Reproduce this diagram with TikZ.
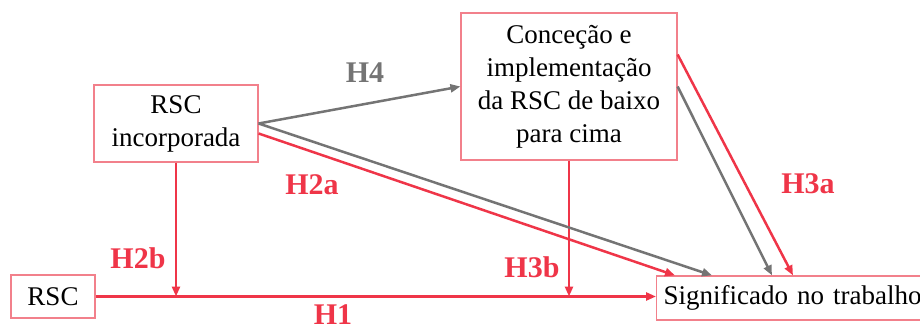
\documentclass[tikz,border=0pt]{standalone}
\usepackage{fontspec}
\setmainfont{Liberation Serif}
\usetikzlibrary{arrows.meta,calc}

\definecolor{hypred}{HTML}{EF3548}
\definecolor{boxred}{HTML}{F2808B}
\definecolor{hypgray}{HTML}{747474}

\begin{document}
\begin{tikzpicture}[x=1pt,y=1pt,
    box/.style={draw=boxred, line width=1.2pt, inner sep=0pt, align=center,
        font=\fontsize{27}{33}\selectfont},
    redarrow/.style={draw=hypred, line width=2.5pt, -{Triangle[length=10pt,width=8pt]}},
    grayarrow/.style={draw=hypgray, line width=2.5pt, -{Triangle[length=10pt,width=8pt]}},
    hyp/.style={font=\fontsize{30}{30}\selectfont\bfseries, text=hypred},
    ]
    \useasboundingbox (0,0) rectangle (920,330);

    \node (inc) [box, minimum width=164pt, minimum height=77pt] at (176,206.5) {RSC\\incorporada};
    \node (rsc) [box, minimum width=84pt, minimum height=43pt] at (53,33.5) {RSC};
    \node (con) [box, minimum width=216pt, minimum height=147pt] at (569,243.5) {Conceção e\\implementação\\da RSC de baixo\\para cima};
    \node (sig) [box, anchor=west, minimum height=44pt, text width=268pt, inner xsep=7pt, align=left] at (656,32) {Significado no trabalho};

    % setas principais
    \draw[redarrow] (rsc.east) -- (rsc.east -| sig.west);
    \draw[redarrow] (inc.south) -- (inc.south |- rsc.east);
    \draw[redarrow] (con.south) -- (con.south |- rsc.east);

    \draw[grayarrow] (inc.east) -- (con.west);
    \draw[grayarrow] (inc.east) -- ($(sig.north west)+(56,0)$);
    \draw[redarrow] ([yshift=-10pt]inc.east) -- ($(sig.north west)+(19,0)$);
    \draw[grayarrow] (con.east) -- ($(sig.north west)+(116,0)$);
    \draw[redarrow] ([yshift=32pt]con.east) -- ($(sig.north west)+(137,0)$);

    % hipoteses
    \node (h4) [hyp, text=hypgray] at (365,257) {H4};
    \node (h2a) [hyp] at (312,145) {H2a};
    \node (h2b) [hyp] at (138,72) {H2b};
    \node (h3b) [hyp] at (532,63) {H3b};
    \node (h3a) [hyp] at (808,146) {H3a};
    \node (h1) [hyp] at (333,15) {H1};
\end{tikzpicture}
\end{document}
